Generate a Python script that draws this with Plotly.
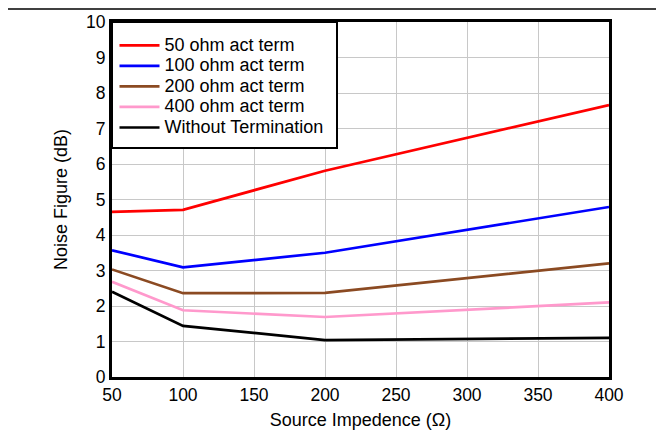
import plotly.graph_objects as go

x_vals = [50, 100, 200, 400]
nf_50 = [4.65, 4.71, 5.81, 7.66]
nf_100 = [3.57, 3.09, 3.5, 4.79]
nf_200 = [3.03, 2.36, 2.37, 3.2]
nf_400 = [2.68, 1.88, 1.69, 2.1]
nf_none = [2.4, 1.44, 1.04, 1.1]

series = [
    ("50 ohm act term", nf_50, "#ff0000"),
    ("100 ohm act term", nf_100, "#0000ff"),
    ("200 ohm act term", nf_200, "#8b4a22"),
    ("400 ohm act term", nf_400, "#ff99cc"),
    ("Without Termination", nf_none, "#000000"),
]

fig = go.Figure()
for name, ys, col in series:
    fig.add_trace(go.Scatter(x=x_vals, y=ys, mode="lines",
                             name='<span style="font-size:18px">' + name + '</span>',
                             line=dict(color=col, width=2.7)))

FAM = "Liberation Sans, Arial, sans-serif"
tickfont = dict(family=FAM, size=17.5, color="black")
titlefont = dict(family=FAM, size=18, color="black")

W, H = 656, 422
L, T, PW, PH = 104, 14, 497, 355

fig.update_layout(
    width=W, height=H,
    margin=dict(l=L, r=W - L - PW, t=T, b=H - T - PH),
    paper_bgcolor="white", plot_bgcolor="white",
    font=tickfont,
    showlegend=True,
    legend=dict(x=2.5 / PW, y=1 - 8 / PH, xanchor="left", yanchor="top",
                borderwidth=0, bgcolor="rgba(0,0,0,0)",
                font=dict(family=FAM, size=13.5, color="black"),
                itemwidth=40),
    xaxis=dict(range=[50, 400], dtick=50, showgrid=True, gridcolor="#c8c8c8",
               gridwidth=1, showline=True, linecolor="black", linewidth=3,
               mirror=True, ticks="", zeroline=False, tickfont=tickfont,
               automargin=False,
               title=dict(text="Source Impedence (Ω)", standoff=10, font=titlefont)),
    yaxis=dict(range=[0, 10], dtick=1, showgrid=True, gridcolor="#c8c8c8",
               gridwidth=1, showline=True, linecolor="black", linewidth=3,
               mirror=True, ticks="", zeroline=False, tickfont=tickfont,
               automargin=False,
               title=dict(text="Noise Figure (dB)", standoff=14, font=titlefont)),
)
# legend frame
fig.add_shape(type="rect", xref="paper", yref="paper", layer="above",
              x0=0, x1=225 / PW, y0=1, y1=1 - 126 / PH,
              fillcolor="white", line=dict(color="black", width=2))
# separator rule above chart
fig.add_shape(type="line", xref="paper", yref="paper",
              x0=-L / PW, x1=(W - L) / PW,
              y0=1 + 13 / PH, y1=1 + 13 / PH, line=dict(color="black", width=1.5))
fig.write_html("out.html")
